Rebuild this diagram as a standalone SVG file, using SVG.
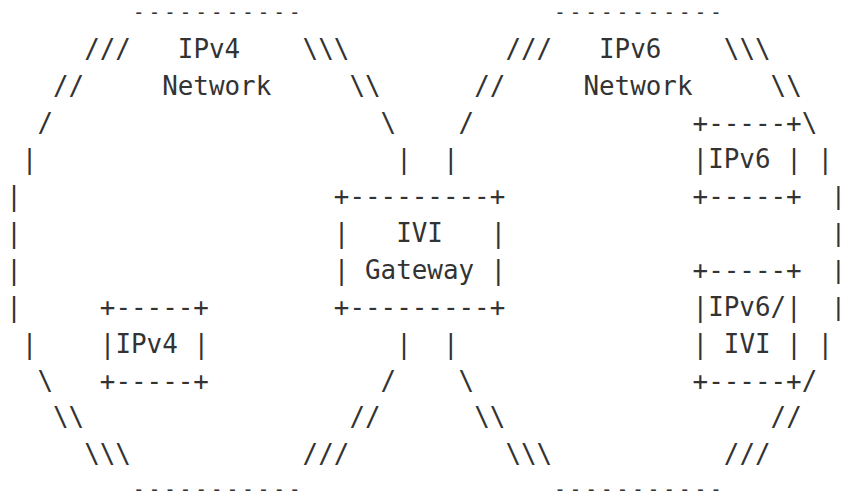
<svg xmlns="http://www.w3.org/2000/svg" width="842" height="501" viewBox="0 0 842 501" xml:space="preserve">
  <style>
    .t { font-family: "DejaVu Sans Mono", "Liberation Mono", monospace; font-size: 25.9px; fill: #333333; white-space: pre; }
    .d { font-size: 19px; letter-spacing: 4.16px; }
    .bar { font-family: "Liberation Sans", Arial, sans-serif; text-anchor: middle; }
  </style>
  <rect x="0" y="0" width="842" height="501" fill="#ffffff"/>

  <!-- IPv4 network outline (column grid: x = 6.2 + 15.6*col) -->
  <g id="ipv4-network" class="t">
    <text class="d" x="133.08" y="18.6">-----------</text>
    <text x="84.2" y="57.85">///</text>
    <text x="177.8" y="57.85">IPv4</text>
    <text x="302.6" y="57.85">\\\</text>
    <text x="53" y="94.7">//</text>
    <text x="162.2" y="94.7">Network</text>
    <text x="349.4" y="94.7">\\</text>
    <text x="37.4" y="131.55">/</text>
    <text x="380.6" y="131.55">\</text>
    <text x="21.8" y="168.4">|</text>
    <text x="396.2" y="168.4">|</text>
    <text x="6.2" y="205.25">|</text>
    <text x="6.2" y="242.1">|</text>
    <text x="6.2" y="278.95">|</text>
    <text x="6.2" y="315.8">|</text>
    <text x="21.8" y="352.65">|</text>
    <text x="396.2" y="352.65">|</text>
    <text x="37.4" y="389.5">\</text>
    <text x="380.6" y="389.5">/</text>
    <text x="53" y="426.35">\\</text>
    <text x="349.4" y="426.35">//</text>
    <text x="84.2" y="463.2">\\\</text>
    <text x="302.6" y="463.2">///</text>
    <text class="d" x="133.08" y="496.3">-----------</text>
  </g>

  <!-- IPv6 network outline -->
  <g id="ipv6-network" class="t">
    <text class="d" x="554.28" y="18.6">-----------</text>
    <text x="505.4" y="57.85">///</text>
    <text x="599" y="57.85">IPv6</text>
    <text x="723.8" y="57.85">\\\</text>
    <text x="474.2" y="94.7">//</text>
    <text x="583.4" y="94.7">Network</text>
    <text x="770.6" y="94.7">\\</text>
    <text x="458.6" y="131.55">/</text>
    <text x="801.8" y="131.55">\</text>
    <text x="443" y="168.4">|</text>
    <text x="817.4" y="168.4">|</text>
    <text class="bar" x="838.3" y="205.25">|</text>
    <text class="bar" x="838.3" y="242.1">|</text>
    <text class="bar" x="838.3" y="278.95">|</text>
    <text class="bar" x="838.3" y="315.8">|</text>
    <text x="443" y="352.65">|</text>
    <text x="817.4" y="352.65">|</text>
    <text x="458.6" y="389.5">\</text>
    <text x="801.8" y="389.5">/</text>
    <text x="474.2" y="426.35">\\</text>
    <text x="770.6" y="426.35">//</text>
    <text x="505.4" y="463.2">\\\</text>
    <text x="723.8" y="463.2">///</text>
    <text class="d" x="554.28" y="496.3">-----------</text>
  </g>

  <!-- IVI gateway box -->
  <g id="ivi-gateway" class="t">
    <text x="333.8" y="205.25">+---------+</text>
    <text x="333.8" y="242.1">|</text>
    <text x="396.2" y="242.1">IVI</text>
    <text x="490.4" y="242.1">|</text>
    <text x="333.8" y="278.95">|</text>
    <text x="365" y="278.95">Gateway</text>
    <text x="490.4" y="278.95">|</text>
    <text x="333.8" y="315.8">+---------+</text>
  </g>

  <!-- IPv4 host -->
  <g id="ipv4-host" class="t">
    <text x="99.8" y="315.8">+-----+</text>
    <text x="99.8" y="352.65">|IPv4</text>
    <text x="193.4" y="352.65">|</text>
    <text x="99.8" y="389.5">+-----+</text>
  </g>

  <!-- IPv6 host -->
  <g id="ipv6-host" class="t">
    <text x="692.6" y="131.55">+-----+</text>
    <text x="692.6" y="168.4">|IPv6</text>
    <text x="786.2" y="168.4">|</text>
    <text x="692.6" y="205.25">+-----+</text>
  </g>

  <!-- IPv6/IVI host -->
  <g id="ipv6-ivi-host" class="t">
    <text x="692.6" y="278.95">+-----+</text>
    <text x="692.6" y="315.8">|IPv6/|</text>
    <text x="692.6" y="352.65">|</text>
    <text x="723.8" y="352.65">IVI</text>
    <text x="786.2" y="352.65">|</text>
    <text x="692.6" y="389.5">+-----+</text>
  </g>
</svg>
